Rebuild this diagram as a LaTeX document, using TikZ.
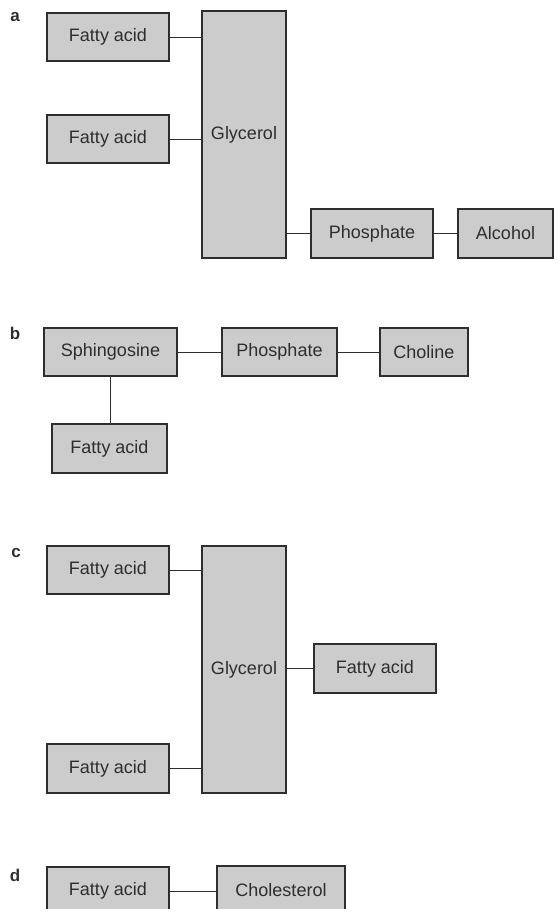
\documentclass[tikz,border=0pt]{standalone}
\usepackage{fontspec}
\setmainfont{Liberation Sans}
\definecolor{boxgray}{gray}{0.8}
\definecolor{inkgray}{gray}{0.18}
\begin{document}
\begin{tikzpicture}[x=1pt,y=-1pt,
  part/.style={draw=inkgray,fill=boxgray,line width=1.1pt,text=inkgray,
    font=\fontsize{18}{20}\selectfont,inner sep=0pt,minimum height=48pt},
  bond/.style={draw=inkgray,line width=0.9pt},
  panel/.style={font=\fontsize{17}{18}\selectfont\bfseries,text=inkgray}]
\useasboundingbox (0,0) rectangle (557,909);

% a: glycerophospholipid
\node[panel] (la) at (15,17) {a};
\node[part,minimum width=122pt] (faA1) at (108,37) {Fatty acid};
\node[part,minimum width=122pt] (faA2) at (108,139) {Fatty acid};
\node[part,minimum width=84pt,minimum height=247pt] (glyA) at (244,134.5) {Glycerol};
\node[part,minimum width=122pt,minimum height=49pt] (phA) at (372,233.5) {Phosphate};
\node[part,minimum width=95pt,minimum height=49pt] (alA) at (505.5,233.5) {Alcohol};
\draw[bond] (faA1.east) -- (faA1.east -| glyA.west);
\draw[bond] (faA2.east) -- (faA2.east -| glyA.west);
\draw[bond] (phA.west -| glyA.east) -- (phA.west);
\draw[bond] (phA) -- (alA);

% b: sphingomyelin
\node[panel] (lb) at (15,333) {b};
\node[part,minimum width=133pt] (sph) at (110.5,352) {Sphingosine};
\node[part,minimum width=115pt] (phB) at (279.5,352) {Phosphate};
\node[part,minimum width=88pt] (cho) at (424,352) {Choline};
\node[part,minimum width=115pt,minimum height=49pt] (faB) at (109.5,448.5) {Fatty acid};
\draw[bond] (sph) -- (phB);
\draw[bond] (phB) -- (cho);
\draw[bond] (sph.south) -- (sph.south |- faB.north);

% c: triglyceride
\node[panel] (lc) at (16,553) {c};
\node[part,minimum width=122pt] (faC1) at (108,570) {Fatty acid};
\node[part,minimum width=84pt,minimum height=247pt] (glyC) at (244,669.5) {Glycerol};
\node[part,minimum width=122pt,minimum height=49pt] (faC3) at (375,668.5) {Fatty acid};
\node[part,minimum width=122pt,minimum height=49pt] (faC2) at (108,768.5) {Fatty acid};
\draw[bond] (faC1.east) -- (faC1.east -| glyC.west);
\draw[bond] (faC2.east) -- (faC2.east -| glyC.west);
\draw[bond] (glyC.east |- faC3.west) -- (faC3.west);

% d: cholesterol ester
\node[panel] (ld) at (15,875) {d};
\node[part,minimum width=122pt] (faD) at (108,891) {Fatty acid};
\node[part,minimum width=128pt] (chl) at (281,890) {Cholesterol};
\draw[bond] (faD.east) -- (faD.east -| chl.west);
\end{tikzpicture}
\end{document}
